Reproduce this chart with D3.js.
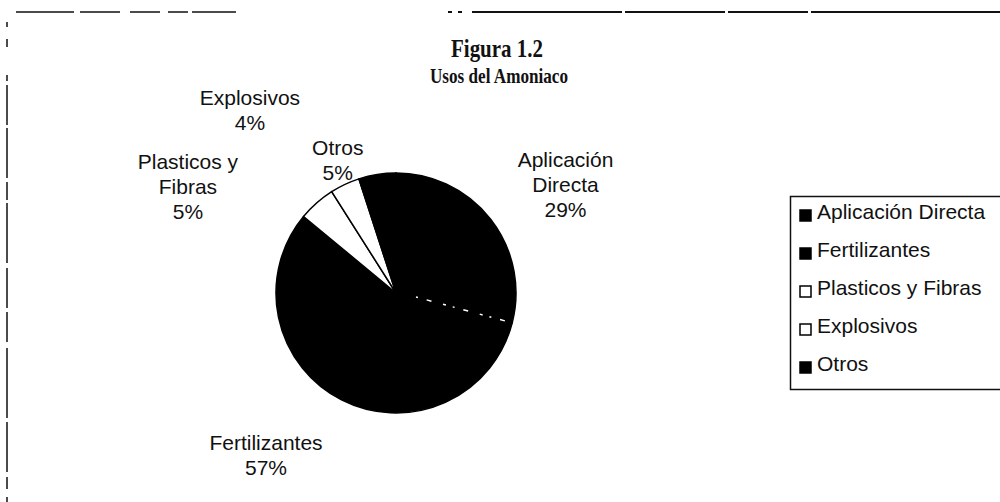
<!DOCTYPE html>
<html lang="es">
<head>
<meta charset="UTF-8">
<title>Usos del Amoniaco</title>
<script src="https://d3js.org/d3.v7.min.js"></script>
<style>
  body { margin: 0; background: #fff; }
  .pie-label, .legend text { font: 21px "Liberation Sans", Arial, sans-serif; fill: #111; }
  .title { font-family: "Liberation Serif", "Times New Roman", serif; font-weight: bold; fill: #111; text-anchor: middle; }
</style>
</head>
<body>
<div id="chart"></div>
<script>
// data
const categories = ["Aplicación Directa", "Fertilizantes", "Plasticos y Fibras", "Explosivos", "Otros"];
const percents = [29, 57, 5, 4, 5];
// how the slice labels wrap next to the pie
const labelLines = [["Aplicación", "Directa"], ["Fertilizantes"], ["Plasticos y", "Fibras"], ["Explosivos"], ["Otros"]];

const width = 1000, height = 502;
const cx = 396, cy = 293, radius = 120;
const lineH = 25;

const svg = d3.select("#chart").append("svg")
    .attr("width", width)
    .attr("height", height);

// scanned page frame (broken lines)
svg.append("line")
    .attr("x1", 16).attr("x2", 236).attr("y1", 12).attr("y2", 12)
    .attr("stroke", "#111").attr("stroke-width", 1.5)
    .attr("stroke-dasharray", "58,6,40,10,30,8,20,4");
svg.append("line")
    .attr("x1", 448).attr("x2", 1000).attr("y1", 12).attr("y2", 12)
    .attr("stroke", "#111").attr("stroke-width", 2)
    .attr("stroke-dasharray", "4,6,4,10,150,3,100,3,80,3,200");
svg.append("line")
    .attr("x1", 7).attr("x2", 7).attr("y1", 22).attr("y2", height)
    .attr("stroke", "#111").attr("stroke-width", 1.5)
    .attr("stroke-dasharray", "5,12,8,28,6,4,40,3,50,4,18,3,60,5,40,4,30,6,70,4,50");

// titles
svg.append("text")
    .attr("class", "title")
    .attr("x", 497).attr("y", 57)
    .attr("font-size", 25)
    .attr("textLength", 92).attr("lengthAdjust", "spacingAndGlyphs")
    .text("Figura 1.2");
svg.append("text")
    .attr("class", "title")
    .attr("x", 499).attr("y", 83)
    .attr("font-size", 21)
    .attr("textLength", 138).attr("lengthAdjust", "spacingAndGlyphs")
    .text("Usos del Amoniaco");

const color = d3.scaleOrdinal()
    .domain(categories)
    .range(["#000", "#000", "#fff", "#fff", "#000"]);

const pieData = d3.pie().sort(null).value(d => d.value)(
    categories.map((c, i) => ({ name: c, value: percents[i], lines: labelLines[i] })));

const arc = d3.arc().innerRadius(0).outerRadius(radius);
const labelArc = d3.arc().innerRadius(radius * 1.45).outerRadius(radius * 1.45);

const pieG = svg.append("g").attr("transform", `translate(${cx},${cy})`);

pieG.selectAll("path")
    .data(pieData)
    .enter().append("path")
    .attr("d", arc)
    .attr("fill", d => color(d.data.name))
    .attr("stroke", "#000")
    .attr("stroke-width", 1.5);

// faint white seam between the two black slices, as on the scan
const seam = d3.pointRadial(pieData[0].endAngle, radius - 3);
pieG.append("line")
    .attr("x1", 20).attr("y1", 4)
    .attr("x2", seam[0]).attr("y2", seam[1])
    .attr("stroke", "#fff").attr("stroke-width", 1.5)
    .attr("stroke-dasharray", "2,9,5,12,3,7");

// Excel pushed the small-slice labels away from each other
const labelNudge = [[32, -2], [-51, 7], [-93, 24], [-72, -25], [-31, 39]];

const labels = pieG.selectAll(".pie-label")
    .data(pieData)
    .enter().append("text")
    .attr("class", "pie-label")
    .attr("text-anchor", "middle")
    .attr("transform", (d, i) => {
        const c = labelArc.centroid(d);
        return `translate(${c[0] + labelNudge[i][0]},${c[1] + labelNudge[i][1]})`;
    });

labels.each(function(d) {
    const lines = d.data.lines.concat(d.data.value + "%");
    const top = -(lines.length - 1) * lineH / 2;
    d3.select(this).selectAll("tspan")
        .data(lines)
        .enter().append("tspan")
        .attr("x", 0)
        .attr("y", (l, j) => top + j * lineH)
        .attr("dy", "0.35em")
        .text(l => l);
});

// legend
const legendY = d3.scalePoint()
    .domain(categories)
    .range([212, 364]);

const legend = svg.append("g").attr("class", "legend");

legend.append("rect")
    .attr("x", 790.5).attr("y", 196.5)
    .attr("width", 230).attr("height", 193)
    .attr("fill", "none")
    .attr("stroke", "#111").attr("stroke-width", 1.5);

const item = legend.selectAll(".item")
    .data(categories)
    .enter().append("g")
    .attr("class", "item")
    .attr("transform", d => `translate(0,${legendY(d)})`);

item.append("rect")
    .attr("x", 800).attr("y", -2)
    .attr("width", 11).attr("height", 11)
    .attr("fill", d => color(d))
    .attr("stroke", "#000").attr("stroke-width", 1.5);

item.append("text")
    .attr("x", 817)
    .attr("dy", "0.35em")
    .text(d => d);
</script>
</body>
</html>
